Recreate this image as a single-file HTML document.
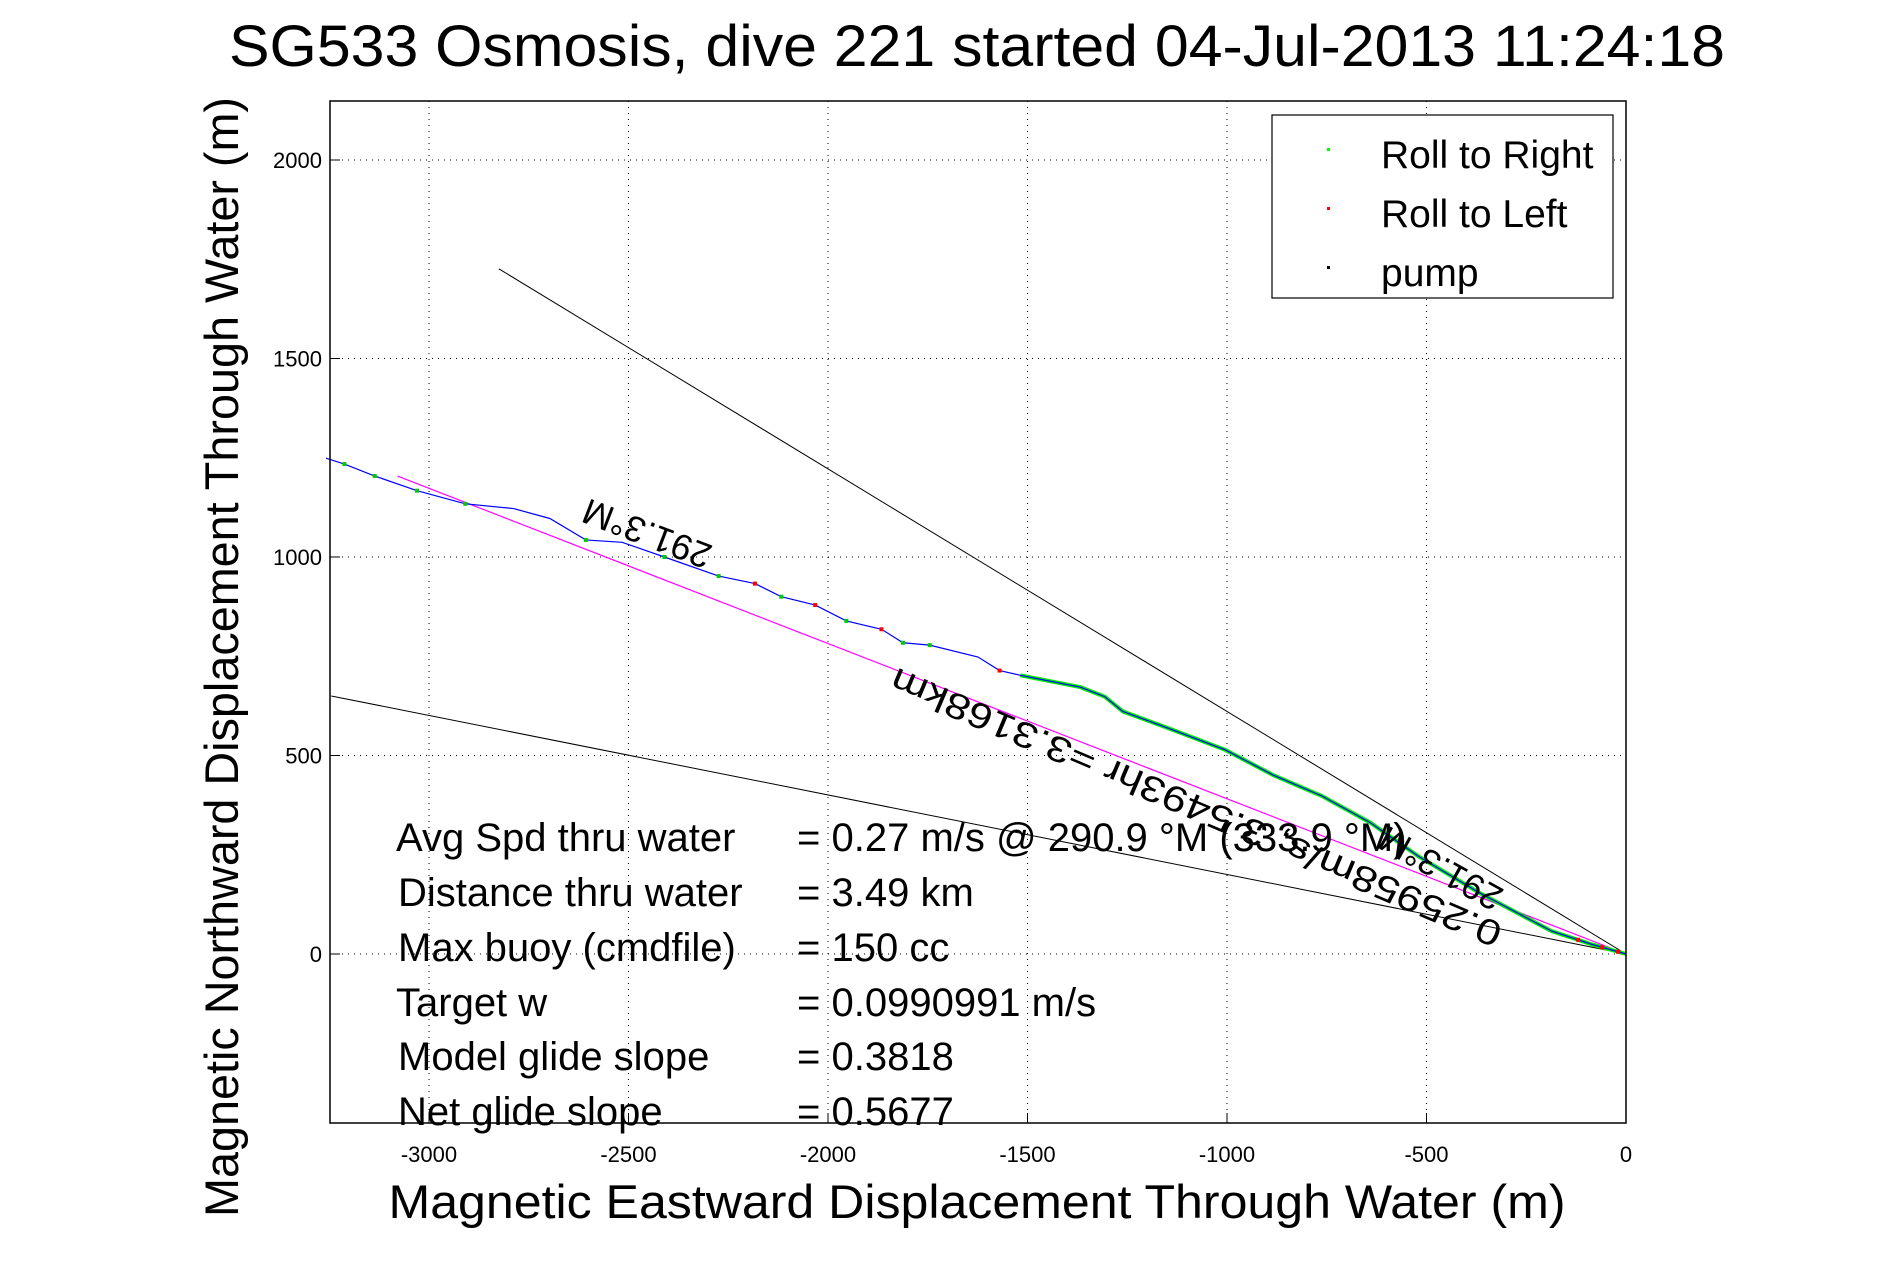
<!DOCTYPE html>
<html><head><meta charset="utf-8"><style>
html,body{margin:0;padding:0;background:#fff;}
svg{display:block;font-family:"Liberation Sans",sans-serif;}
</style></head><body>
<svg id="chart" width="1891" height="1262" viewBox="0 0 1891 1262" xmlns="http://www.w3.org/2000/svg">
<rect width="1891" height="1262" fill="#fff"/>
<g id="grid"></g>
<g id="marks"></g>
<rect x="330" y="101" width="1296" height="1022" fill="none" stroke="#000" stroke-width="1.5"/>
<g id="ticks" font-size="22"></g>
<text x="977" y="66" font-size="58" text-anchor="middle" textLength="1496" lengthAdjust="spacingAndGlyphs">SG533 Osmosis, dive 221 started 04-Jul-2013 11:24:18</text>
<text x="977" y="1218" font-size="47" text-anchor="middle" textLength="1177" lengthAdjust="spacingAndGlyphs">Magnetic Eastward Displacement Through Water (m)</text>
<text transform="translate(238,657) rotate(-90)" font-size="47" text-anchor="middle" textLength="1120" lengthAdjust="spacingAndGlyphs">Magnetic Northward Displacement Through Water (m)</text>
<g>
<rect x="1272" y="115" width="341" height="183" fill="#fff" stroke="#000" stroke-width="1.2"/>
<rect x="1327" y="148" width="3" height="3" fill="#0f0"/>
<text x="1381" y="168" font-size="39">Roll to Right</text>
<rect x="1327" y="207" width="3" height="3" fill="#f00"/>
<text x="1381" y="227" font-size="39">Roll to Left</text>
<rect x="1327" y="266" width="3" height="3" fill="#000"/>
<text x="1381" y="286" font-size="39">pump</text>
</g>
<g font-size="36">
<text transform="translate(648,531) rotate(201)" text-anchor="middle" dominant-baseline="middle">291.3°M</text>
<text transform="translate(1442,866) rotate(209)" text-anchor="middle" dominant-baseline="middle">291.3°M</text>
<text transform="translate(1197,805) rotate(203)" text-anchor="middle" dominant-baseline="middle" textLength="660" lengthAdjust="spacingAndGlyphs">0.25958m/s, 3.5493hr =3.3168km</text>
</g>
<g font-size="40" xml:space="preserve" style="white-space:pre">
<text x="396" y="851">Avg Spd thru water</text><text x="797" y="851">=  0.27 m/s @ 290.9  °M (333.9 °M)</text>
<text x="398" y="906">Distance thru water</text><text x="797" y="906">=  3.49 km</text>
<text x="398" y="961">Max buoy (cmdfile)</text><text x="797" y="961">= 150 cc</text>
<text x="396" y="1016">Target w</text><text x="797" y="1016">= 0.0990991 m/s</text>
<text x="398" y="1070">Model glide slope</text><text x="797" y="1070">= 0.3818</text>
<text x="398" y="1125">Net glide slope</text><text x="797" y="1125">= 0.5677</text>
</g>
</svg>
<script>
const xTicks = [-3000,-2500,-2000,-1500,-1000,-500,0];
const yTicks = [0,500,1000,1500,2000];
const trackX = [-3258,-3212,-3136,-3030,-2909,-2788,-2697,-2607,-2516,-2410,-2274,-2183,-2117,-2032,-1954,-1866,-1812,-1745,-1624,-1570,-1518,-1367,-1306,-1261,-1140,-1004,-883,-762,-641,-520,-369,-187,-85,0];
const trackY = [1249,1234,1204,1167,1134,1122,1097,1043,1037,1000,952,933,900,879,839,818,784,778,748,714,702,672,648,611,566,514,450,398,331,246,155,58,24,0];
const greenDotX = [-3212,-3136,-3030,-2909,-2607,-2410,-2274,-2117,-1954,-1812,-1745];
const redDotX = [-2183,-2032,-1866,-1570,-120,-60,-20];
const line1End = [-2825,1726];
const line2End = [-3245,650];
const magentaEnd = [-3079,1204];
const X0=1626, XS=0.399, Y0=954, YS=0.397;
const sx = v => X0 + v*XS;
const sy = v => Y0 - v*YS;
const NS='http://www.w3.org/2000/svg';
function mk(tag, attrs, parent){const e=document.createElementNS(NS,tag);for(const k in attrs)e.setAttribute(k,attrs[k]);parent.appendChild(e);return e;}
const grid=document.getElementById('grid'), ticks=document.getElementById('ticks'), marks=document.getElementById('marks');
xTicks.forEach(t=>{
  const l=mk('line',{x1:sx(t),x2:sx(t),y1:101,y2:1123,stroke:'#000','stroke-width':1,'stroke-dasharray':'1 5'},grid);
  
  
  const tk=mk('line',{x1:sx(t),x2:sx(t),y1:1123,y2:1113,stroke:'#000'},ticks);
  
  
  const tx=mk('text',{x:sx(t),y:1162,'text-anchor':'middle'},ticks);tx.textContent=t;
  
  
});
yTicks.forEach(t=>{
  const l=mk('line',{x1:330,x2:1626,y1:sy(t),y2:sy(t),stroke:'#000','stroke-width':1,'stroke-dasharray':'1 5'},grid);
  
  
  const tk=mk('line',{x1:330,x2:340,y1:sy(t),y2:sy(t),stroke:'#000'},ticks);
  
  
  const tx=mk('text',{x:322,y:sy(t)+8,'text-anchor':'end'},ticks);tx.textContent=t;
  
  
});
const l1=mk('line',{x1:sx(line1End[0]),y1:sy(line1End[1]),x2:sx(0),y2:sy(0),stroke:'#000','stroke-width':1},marks);


const l2=mk('line',{x1:sx(line2End[0]),y1:sy(line2End[1]),x2:sx(0),y2:sy(0),stroke:'#000','stroke-width':1},marks);


const lm=mk('line',{x1:sx(magentaEnd[0]),y1:sy(magentaEnd[1]),x2:sx(0),y2:sy(0),stroke:'#f0f','stroke-width':1.2},marks);


const pts=trackX.map((x,i)=>sx(x)+','+sy(trackY[i]));
const gpts=trackX.map((x,i)=>[x,trackY[i]]).filter(p=>p[0]>=-1518).map(p=>sx(p[0])+','+sy(p[1]));
const g=mk('polyline',{points:gpts.join(' '),fill:'none',stroke:'#0e0','stroke-width':4},marks);


const b=mk('polyline',{points:pts.join(' '),fill:'none',stroke:'#00f','stroke-width':1.2},marks);


function yAt(x){for(let i=0;i<trackX.length-1;i++){if(x>=trackX[i]&&x<=trackX[i+1]){const f=(x-trackX[i])/(trackX[i+1]-trackX[i]);return trackY[i]+f*(trackY[i+1]-trackY[i]);}}return 0;}
greenDotX.forEach(x=>{const r=mk('rect',{x:sx(x)-2,y:sy(yAt(x))-2,width:4,height:4,fill:'#0c0'},marks);
  
  });
redDotX.forEach(x=>{const r=mk('rect',{x:sx(x)-2,y:sy(yAt(x))-2,width:4,height:4,fill:'#f00'},marks);
  
  });
</script>
</body></html>
